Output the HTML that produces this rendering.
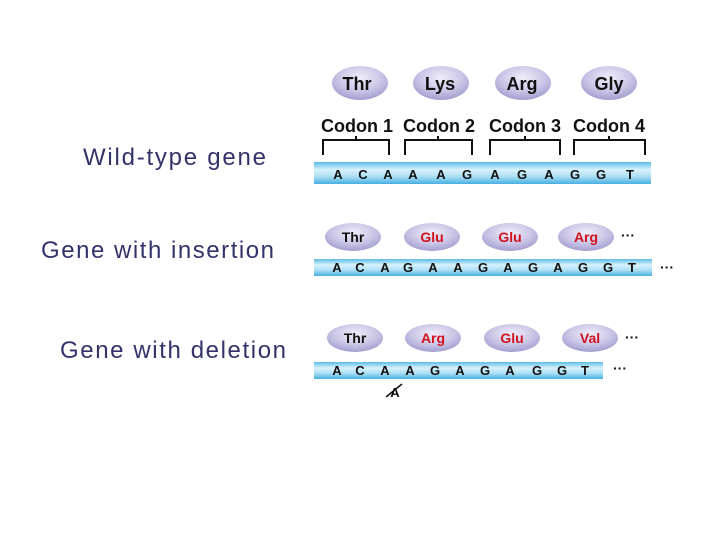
<!DOCTYPE html>
<html><head><meta charset="utf-8"><style>
html,body{margin:0;padding:0;background:#fff;}
svg{display:block;}
.lab{font-family:"Liberation Sans",sans-serif;font-size:24px;fill:#33336b;}
.aa{font-family:"Liberation Sans",sans-serif;font-weight:bold;text-anchor:middle;}
.nt{font-family:"Liberation Sans",sans-serif;font-weight:bold;font-size:13px;text-anchor:middle;fill:#111;}
.cod{font-family:"Liberation Sans",sans-serif;font-weight:bold;font-size:18px;text-anchor:middle;fill:#111;}
</style></head><body>
<svg width="720" height="540" viewBox="0 0 720 540">
<defs>
<radialGradient id="ov" cx="50%" cy="35%" r="65%">
<stop offset="0" stop-color="#f0eefa"/><stop offset="0.6" stop-color="#c9c5e6"/><stop offset="1" stop-color="#a39ecf"/>
</radialGradient>
<linearGradient id="st" x1="0" y1="0" x2="0" y2="1">
<stop offset="0" stop-color="#5bbde8"/><stop offset="0.35" stop-color="#d8f1fb"/><stop offset="0.65" stop-color="#aee0f5"/><stop offset="1" stop-color="#48afe0"/>
</linearGradient>
</defs>
<text class="lab" x="83" y="165" textLength="183">Wild-type gene</text>
<text class="lab" x="41" y="258" textLength="233">Gene with insertion</text>
<text class="lab" x="60" y="358" textLength="226">Gene with deletion</text>

<!-- wild type -->
<g>
<ellipse cx="360" cy="83" rx="28" ry="17" fill="url(#ov)"/>
<ellipse cx="441" cy="83" rx="28" ry="17" fill="url(#ov)"/>
<ellipse cx="523" cy="83" rx="28" ry="17" fill="url(#ov)"/>
<ellipse cx="609" cy="83" rx="28" ry="17" fill="url(#ov)"/>
<text class="aa" x="357" y="90" font-size="18" fill="#111">Thr</text>
<text class="aa" x="440" y="90" font-size="18" fill="#111">Lys</text>
<text class="aa" x="522" y="90" font-size="18" fill="#111">Arg</text>
<text class="aa" x="609" y="90" font-size="18" fill="#111">Gly</text>
<text class="cod" x="357" y="132">Codon 1</text>
<text class="cod" x="439" y="132">Codon 2</text>
<text class="cod" x="525" y="132">Codon 3</text>
<text class="cod" x="609" y="132">Codon 4</text>
<g stroke="#111" stroke-width="2" fill="none">
<path d="M323 155V140H389V155M356 140V136"/>
<path d="M405 155V140H472V155M438 140V136"/>
<path d="M490 155V140H560V155M525 140V136"/>
<path d="M574 155V140H645V155M609 140V136"/>
</g>
<rect x="314" y="162" width="337" height="22" fill="url(#st)"/>
<g class="nt" font-size="15">
<text class="nt" x="338" y="179" font-size="15">A</text><text class="nt" x="363" y="179">C</text><text class="nt" x="388" y="179">A</text>
<text class="nt" x="413" y="179">A</text><text class="nt" x="441" y="179">A</text><text class="nt" x="467" y="179">G</text>
<text class="nt" x="495" y="179">A</text><text class="nt" x="522" y="179">G</text><text class="nt" x="549" y="179">A</text>
<text class="nt" x="575" y="179">G</text><text class="nt" x="601" y="179">G</text><text class="nt" x="630" y="179">T</text>
</g>
</g>

<!-- insertion -->
<g>
<ellipse cx="353" cy="237" rx="28" ry="14" fill="url(#ov)"/>
<ellipse cx="432" cy="237" rx="28" ry="14" fill="url(#ov)"/>
<ellipse cx="510" cy="237" rx="28" ry="14" fill="url(#ov)"/>
<ellipse cx="586" cy="237" rx="28" ry="14" fill="url(#ov)"/>
<text class="aa" x="353" y="242" font-size="14" fill="#111">Thr</text>
<text class="aa" x="432" y="242" font-size="14" fill="#d0121e">Glu</text>
<text class="aa" x="510" y="242" font-size="14" fill="#d0121e">Glu</text>
<text class="aa" x="586" y="242" font-size="14" fill="#d0121e">Arg</text>
<text class="aa" x="628" y="240" font-size="14" fill="#111">···</text>
<rect x="314" y="259" width="338" height="17" fill="url(#st)"/>
<text class="nt" x="337" y="272">A</text><text class="nt" x="360" y="272">C</text><text class="nt" x="385" y="272">A</text>
<text class="nt" x="408" y="272" fill="#e04040">G</text><text class="nt" x="433" y="272">A</text><text class="nt" x="458" y="272">A</text>
<text class="nt" x="483" y="272">G</text><text class="nt" x="508" y="272">A</text><text class="nt" x="533" y="272">G</text>
<text class="nt" x="558" y="272">A</text><text class="nt" x="583" y="272">G</text><text class="nt" x="608" y="272">G</text>
<text class="nt" x="632" y="272">T</text>
<text class="aa" x="667" y="272" font-size="14" fill="#111">···</text>
</g>

<!-- deletion -->
<g>
<ellipse cx="355" cy="338" rx="28" ry="14" fill="url(#ov)"/>
<ellipse cx="433" cy="338" rx="28" ry="14" fill="url(#ov)"/>
<ellipse cx="512" cy="338" rx="28" ry="14" fill="url(#ov)"/>
<ellipse cx="590" cy="338" rx="28" ry="14" fill="url(#ov)"/>
<text class="aa" x="355" y="343" font-size="14" fill="#111">Thr</text>
<text class="aa" x="433" y="343" font-size="14" fill="#d0121e">Arg</text>
<text class="aa" x="512" y="343" font-size="14" fill="#d0121e">Glu</text>
<text class="aa" x="590" y="343" font-size="14" fill="#d0121e">Val</text>
<text class="aa" x="632" y="342" font-size="14" fill="#111">···</text>
<rect x="314" y="362" width="289" height="17" fill="url(#st)"/>
<text class="nt" x="337" y="375">A</text><text class="nt" x="360" y="375">C</text><text class="nt" x="385" y="375">A</text>
<text class="nt" x="410" y="375">A</text><text class="nt" x="435" y="375">G</text><text class="nt" x="460" y="375">A</text>
<text class="nt" x="485" y="375">G</text><text class="nt" x="510" y="375">A</text><text class="nt" x="537" y="375">G</text>
<text class="nt" x="562" y="375">G</text><text class="nt" x="585" y="375">T</text>
<text class="aa" x="620" y="373" font-size="14" fill="#111">···</text>
<text class="nt" x="395" y="397" fill="#e04040">A</text>
<line x1="386" y1="397" x2="402" y2="384" stroke="#111" stroke-width="1.5"/>
</g>
</svg>
</body></html>
